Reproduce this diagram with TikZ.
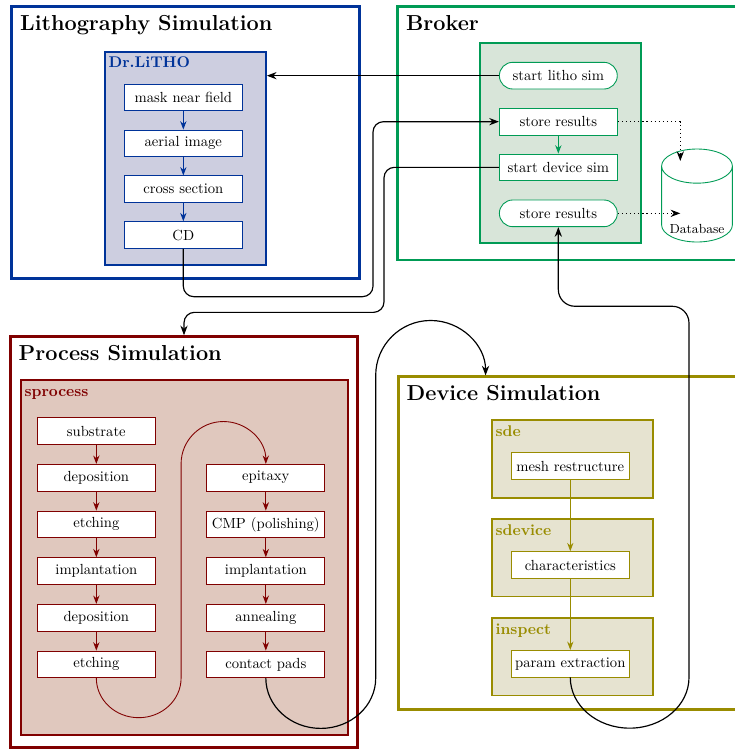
\documentclass[tikz,border=0pt]{standalone}
\usepackage{xcolor}
\usepackage{tikz}
\usetikzlibrary{shapes.geometric,arrows.meta,positioning}

\definecolor{lithoblue}{RGB}{0,51,153}
\definecolor{lithofill}{RGB}{205,206,224}
\definecolor{brokergreen}{RGB}{0,155,85}
\definecolor{brokerfill}{RGB}{216,229,217}
\definecolor{procred}{RGB}{128,0,0}
\definecolor{procfill}{RGB}{224,200,190}
\definecolor{devolive}{RGB}{153,140,0}
\definecolor{devfill}{RGB}{230,227,208}

\begin{document}
\begin{tikzpicture}[
  outer/.style={draw, line width=2pt, inner sep=0pt},
  cont/.style={draw, line width=1.2pt, inner sep=0pt},
  box/.style={draw, fill=white, semithick, minimum width=2.83cm, minimum height=0.64cm, inner sep=0pt, align=center},
  rbox/.style={box, rounded corners=0.32cm},
  ttl/.style={font=\fontsize{14.8}{18}\selectfont\bfseries, anchor=base west, inner sep=0pt},
  tag/.style={font=\fontsize{10.6}{12}\selectfont\bfseries, anchor=base west, inner sep=0pt},
  arr/.style={-{Stealth}, semithick},
  link/.style={-{Stealth}, thick},
  store/.style={-{Stealth}, thick, dotted},
  cyl/.style={cylinder, shape border rotate=90, aspect=3.5, draw=brokergreen, semithick, minimum width=1.7cm, minimum height=2.232cm}
]
\useasboundingbox (0,0) rectangle (17.64,-17.976);

% Outer frames
\node[outer, draw=lithoblue,   minimum width=8.342cm, minimum height=6.518cm] (litho)  at (4.452,-3.42)  {};
\node[outer, draw=brokergreen, minimum width=8.695cm, minimum height=6.079cm] (broker) at (13.892,-3.2)  {};
\node[outer, draw=procred,     minimum width=8.338cm, minimum height=9.854cm] (proc)   at (4.416,-13.008) {};
\node[outer, draw=devolive,    minimum width=8.68cm,  minimum height=7.982cm] (dev)    at (13.9,-13.032)  {};

\node[ttl] (litho-t)  at ([shift={(0.23,-0.6)}]litho.north west)  {Lithography Simulation};
\node[ttl] (broker-t) at ([shift={(0.23,-0.6)}]broker.north west) {Broker};
\node[ttl] (proc-t)   at ([shift={(0.23,-0.6)}]proc.north west)   {Process Simulation};
\node[ttl] (dev-t)    at ([shift={(0.23,-0.6)}]dev.north west)    {Device Simulation};

% Tool containers
\node[cont, draw=lithoblue, fill=lithofill, minimum width=3.864cm, minimum height=5.126cm] (drlitho) at (4.452,-3.804) {};
\node[cont, draw=brokergreen, fill=brokerfill, minimum width=3.857cm, minimum height=4.8cm] (brk) at (13.456,-3.439) {};
\node[cont, draw=procred, fill=procfill, minimum width=7.841cm, minimum height=8.513cm] (sproc) at (4.424,-13.384) {};
\node[cont, draw=devolive, fill=devfill, minimum width=3.871cm, minimum height=1.858cm] (sde)  at (13.744,-11.016) {};
\node[cont, draw=devolive, fill=devfill, minimum width=3.871cm, minimum height=1.858cm] (sdev) at (13.744,-13.384) {};
\node[cont, draw=devolive, fill=devfill, minimum width=3.871cm, minimum height=1.858cm] (insp) at (13.744,-15.76)  {};

\node[tag, text=lithoblue] (drlitho-t) at ([shift={(0.1,-0.41)}]drlitho.north west) {Dr.LiTHO};
\node[tag, text=procred]   (sproc-t)   at ([shift={(0.1,-0.41)}]sproc.north west)   {sprocess};
\node[tag, text=devolive]  (sde-t)     at ([shift={(0.1,-0.41)}]sde.north west)     {sde};
\node[tag, text=devolive]  (sdev-t)    at ([shift={(0.1,-0.41)}]sdev.north west)    {sdevice};
\node[tag, text=devolive]  (insp-t)    at ([shift={(0.1,-0.41)}]insp.north west)    {inspect};

% Lithography steps
\node[box, draw=lithoblue] (m1) at (4.4,-2.34)  {mask near field};
\node[box, draw=lithoblue] (m2) at (4.4,-3.439) {aerial image};
\node[box, draw=lithoblue] (m3) at (4.4,-4.541) {cross section};
\node[box, draw=lithoblue] (cd) at (4.4,-5.64)  {CD};

% Broker steps
\node[rbox, draw=brokergreen] (sls) at (13.4,-1.816) {start litho sim};
\node[box,  draw=brokergreen] (st1) at (13.4,-2.92)  {store results};
\node[box,  draw=brokergreen] (sds) at (13.4,-4.016) {start device sim};
\node[rbox, draw=brokergreen] (st2) at (13.4,-5.12)  {store results};

\node[cyl, anchor=shape center] (db) at (16.728,-4.692) {};
\node[font=\small] (dblbl) at ([yshift=-0.8cm]db.shape center) {Database};
\coordinate (dbin) at (16.327,-3.864);

% Process steps
\node[box, draw=procred] (p1) at (2.312,-10.344) {substrate};
\node[box, draw=procred] (p2) at (2.312,-11.464) {deposition};
\node[box, draw=procred] (p3) at (2.312,-12.584) {etching};
\node[box, draw=procred] (p4) at (2.312,-13.704) {implantation};
\node[box, draw=procred] (p5) at (2.312,-14.824) {deposition};
\node[box, draw=procred] (p6) at (2.312,-15.944) {etching};
\node[box, draw=procred] (q1) at (6.38,-11.464)  {epitaxy};
\node[box, draw=procred] (q2) at (6.38,-12.584)  {CMP (polishing)};
\node[box, draw=procred] (q3) at (6.38,-13.704)  {implantation};
\node[box, draw=procred] (q4) at (6.38,-14.824)  {annealing};
\node[box, draw=procred] (q5) at (6.38,-15.944)  {contact pads};

% Device steps
\node[box, draw=devolive] (mesh) at (13.687,-11.184) {mesh restructure};
\node[box, draw=devolive] (chr)  at (13.687,-13.56)  {characteristics};
\node[box, draw=devolive] (pe)   at (13.687,-15.928) {param extraction};
\coordinate (devin) at (11.654,-9.01);

% Inner flows
\foreach \a/\b in {m1/m2, m2/m3, m3/cd}
  \draw[arr, lithoblue] (\a) -- (\b);
\foreach \a/\b in {p1/p2, p2/p3, p3/p4, p4/p5, p5/p6, q1/q2, q2/q3, q3/q4, q4/q5}
  \draw[arr, procred] (\a) -- (\b);
\foreach \a/\b in {mesh/chr, chr/pe}
  \draw[arr, devolive] (\a) -- (\b);
\draw[arr, brokergreen] (st1) -- (sds);
\draw[arr, procred] (p6.south) arc[start angle=180, end angle=360, x radius=1.017, y radius=0.95]
  -- ([xshift=-2.034cm]q1.north) arc[start angle=180, end angle=0, radius=1.017];

% Storage
\draw[store] (st1.east) -| (dbin);
\draw[store] (st2.east) -- (st2.east -| dbin);

% Links between simulations
\draw[link] (sls.west) -- (sls.west -| drlitho.east);
\draw[link, rounded corners=0.25cm] (cd.south) |- (8.952,-7.12) |- (st1.west);
\draw[link, rounded corners=0.25cm] (sds.west) -| (9.216,-7.496) -| (proc.north);
\draw[link] (q5.south) arc[start angle=180, end angle=360, x radius=1.3185, y radius=1.207]
  -- ([xshift=-2.637cm]devin) arc[start angle=180, end angle=0, radius=1.3185];
\draw[link] (pe.south) arc[start angle=180, end angle=360, x radius=1.4245, y radius=1.217]
  [rounded corners=0.4cm] |- ([yshift=-1.9cm]st2.south) -- (st2.south);
\end{tikzpicture}
\end{document}
